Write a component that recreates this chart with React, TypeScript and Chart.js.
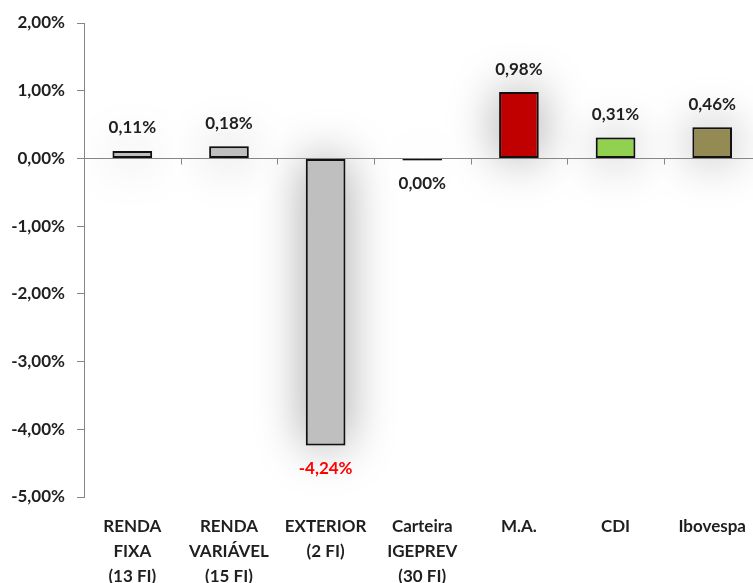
import { useEffect, useRef } from 'react';
import { Chart, registerables } from 'chart.js';

Chart.register(...registerables);

const categories: string[][] = [
  ['RENDA', 'FIXA', '(13 FI)'],
  ['RENDA', 'VARIÁVEL', '(15 FI)'],
  ['EXTERIOR', '(2 FI)'],
  ['Carteira', 'IGEPREV', '(30 FI)'],
  ['M.A.'],
  ['CDI'],
  ['Ibovespa'],
];
const returns: number[] = [0.11, 0.18, -4.24, -0.004, 0.98, 0.31, 0.46];
const barColors: string[] = ['#bfbfbf', '#bfbfbf', '#bfbfbf', '#bfbfbf', '#c00000', '#92d050', '#948a54'];
const labelColors: string[] = ['#1f1f1f', '#1f1f1f', '#ff0000', '#1f1f1f', '#1f1f1f', '#1f1f1f', '#1f1f1f'];
const yMin = -5;
const yMax = 2;
const yStep = 1;

const FONT = 'Lato';

function fmt(v: number): string {
  const r = Math.abs(v) < 0.005 ? 0 : v;
  return r.toFixed(2).replace('.', ',') + '%';
}

const decor = {
  id: 'decor',
  beforeDatasetsDraw(chart: any) {
    const { ctx, chartArea, scales } = chart;
    const x = scales.x;
    const y = scales.y;
    const meta = chart.getDatasetMeta(0);
    // soft shadow behind the bars
    ctx.save();
    ctx.beginPath();
    ctx.rect(chartArea.left + 1, chartArea.top - 20, chartArea.right - chartArea.left, chartArea.bottom - chartArea.top + 40);
    ctx.clip();
    ctx.shadowColor = 'rgba(0,0,0,0.38)';
    ctx.shadowBlur = 48;
    ctx.shadowOffsetX = 0;
    ctx.shadowOffsetY = 0;
    meta.data.forEach((el: any) => {
      const top = Math.min(el.y, el.base);
      const h = Math.abs(el.y - el.base);
      ctx.fillStyle = 'rgba(200,200,200,1)';
      ctx.fillRect(el.x - el.width / 2, top, el.width, h);
    });
    ctx.restore();
    // zero line with category tick marks
    const y0 = Math.round(y.getPixelForValue(0)) + 0.5;
    ctx.save();
    ctx.strokeStyle = '#868686';
    ctx.lineWidth = 1;
    ctx.beginPath();
    ctx.moveTo(chartArea.left, y0);
    ctx.lineTo(chartArea.right, y0);
    for (let i = 1; i < categories.length; i++) {
      const bx = Math.round((x.getPixelForValue(i - 1) + x.getPixelForValue(i)) / 2) + 0.5;
      ctx.moveTo(bx, y0);
      ctx.lineTo(bx, y0 + 6);
    }
    ctx.stroke();
    ctx.restore();
  },
  afterDatasetsDraw(chart: any) {
    const { ctx } = chart;
    const meta = chart.getDatasetMeta(0);
    ctx.save();
    ctx.font = `bold 17px ${FONT}`;
    ctx.textAlign = 'center';
    ctx.textBaseline = 'middle';
    meta.data.forEach((el: any, i: number) => {
      const v = returns[i];
      const ly = v >= 0 ? el.y - 23 : el.y + 23;
      ctx.fillStyle = labelColors[i];
      ctx.fillText(fmt(v), el.x, ly);
    });
    ctx.restore();
  },
};

export default function App() {
  const ref = useRef<HTMLCanvasElement | null>(null);

  useEffect(() => {
    if (!ref.current) return;
    const chart = new Chart(ref.current, {
      type: 'bar',
      data: {
        labels: categories,
        datasets: [
          {
            data: returns,
            backgroundColor: barColors,
            borderColor: '#111111',
            borderWidth: 2,
            borderSkipped: false,
            barPercentage: 0.41,
            categoryPercentage: 1,
            minBarLength: 2,
          },
        ],
      },
      options: {
        animation: false,
        responsive: false,
        devicePixelRatio: 1,
        layout: { padding: { top: 23, right: 0, left: 0, bottom: 0 } },
        plugins: {
          legend: { display: false },
          tooltip: { enabled: false },
        },
        scales: {
          x: {
            grid: { display: false, drawTicks: false, tickLength: 0 },
            border: { display: false },
            ticks: {
              color: '#1f1f1f',
              font: { family: FONT, size: 17, weight: 'bold', lineHeight: '25px' },
              padding: 17,
              maxRotation: 0,
              autoSkip: false,
            },
            afterFit: (s: any) => {
              s.height = 86;
            },
          },
          y: {
            min: yMin,
            max: yMax,
            grid: { drawOnChartArea: false, drawTicks: true, tickLength: 7, color: '#868686' },
            border: { display: true, color: '#868686', width: 1 },
            ticks: {
              stepSize: yStep,
              color: '#1f1f1f',
              font: { family: FONT, size: 17, weight: 'bold' },
              padding: 12,
              callback: (v: any) => fmt(Number(v)),
            },
            afterFit: (s: any) => {
              s.width = 84;
            },
          },
        },
      },
      plugins: [decor],
    });
    return () => chart.destroy();
  }, []);

  return (
    <div style={{ position: 'absolute', left: 0, top: 0, width: 753, height: 583, overflow: 'hidden', background: '#fff' }}>
      <canvas ref={ref} width={763} height={583} style={{ display: 'block', width: 763, height: 583 }} />
    </div>
  );
}
